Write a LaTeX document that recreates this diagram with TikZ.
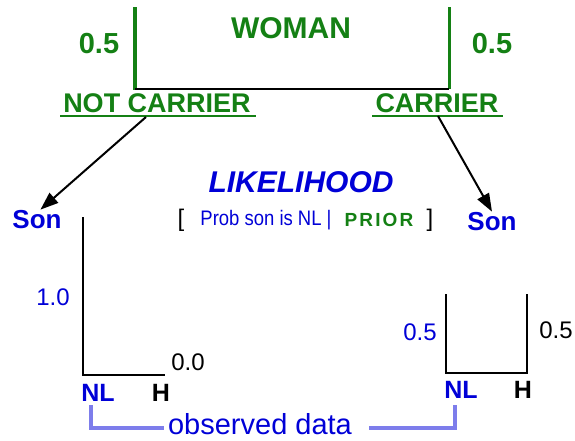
\documentclass[tikz,border=0pt]{standalone}
\usepackage{fontspec}
\setmainfont{Liberation Sans}
\usepackage{xcolor}
\usepackage{tikz}
\usetikzlibrary{arrows.meta}

\definecolor{gene}{RGB}{20,128,20}
\definecolor{kid}{RGB}{0,0,215}
\definecolor{obsc}{RGB}{125,125,235}
\newcommand{\fsz}[1]{\fontsize{#1}{#1}\selectfont}

\begin{document}
\begin{tikzpicture}[x=1pt,y=-1pt,inner sep=0pt,>={Triangle[length=18pt,width=13pt]},
  txt/.style={anchor=base,font=\fsz{#1}},
  btxt/.style={anchor=base,font=\fsz{#1}\bfseries},
  obsline/.style={obsc,line width=4pt}]
\useasboundingbox (0,0) rectangle (575,440);

\node[gene,btxt=30]  (W)  at (291,38)  {WOMAN};
\node[gene,btxt=29]  (PL) at (99,53)   {0.5};
\node[gene,btxt=29]  (PR) at (492,53)  {0.5};
\node[gene,btxt=27]  (NC) at (157,112) {NOT CARRIER};
\node[gene,btxt=27]  (C)  at (437,112) {CARRIER};

\draw[gene,line width=4pt] (135,7) -- (135,90);
\draw[gene,line width=3pt] (449,7) -- (449,89);
\draw[line width=2pt] (135,89) -- (449,89);
\draw[gene,line width=1.2pt] (60,116) -- (256,116) (372,116) -- (503,116);

\node[kid,btxt=26] (SL) at (37,228)  {Son};
\node[kid,btxt=26] (SR) at (492,230) {Son};
\coordinate (NCf) at (146,117);
\coordinate (Cf)  at (438,116);
\draw[->,line width=2pt] (NCf) -- (SL.70);
\draw[->,line width=2pt] (Cf) -- (SR.north);

\node[kid,anchor=base,font=\fsz{30}\bfseries\itshape] (LH) at (301,192) {LIKELIHOOD};
\node[txt=24]      (BL) at (181,226) {[};
\node[kid,txt=21]  (Q)  at (266,225) {\scalebox{0.88}[1]{Prob son is NL |}};
\node[gene,anchor=base,font=\fsz{19}\bfseries\addfontfeature{LetterSpace=11}] (PRI) at (379,226) {PRIOR};
\node[txt=24]      (BR) at (430,226) {]};

% son of a non-carrier
\draw[line width=2pt] (83,217) -- (83,375) -- (165,375);
\node[kid,txt=24] (AL) at (53,305)  {1.0};
\node[txt=24]     (BL0) at (188,370) {0.0};
\node[kid,btxt=25] (NL1) at (98,401) {NL};
\node[btxt=25]     (H1)  at (161,401) {H};

% son of a carrier
\draw[line width=2pt] (446,294) -- (446,373) -- (527,373) -- (527,294);
\node[kid,txt=24] (AR) at (420,340) {0.5};
\node[txt=24]     (BR0) at (556,338) {0.5};
\node[kid,btxt=25] (NL2) at (461,398) {NL};
\node[btxt=25]     (H2)  at (523,398) {H};

\node[kid,txt=29] (OB) at (260,434) {observed data};
\draw[obsline] (NL1.south) ++(-7,4) |- ([xshift=-4pt,yshift=-4pt]OB.west);
\draw[obsline] ([xshift=17pt,yshift=-4pt]OB.east) -| ([xshift=-6pt,yshift=-7pt]NL2.south);

\end{tikzpicture}
\end{document}
